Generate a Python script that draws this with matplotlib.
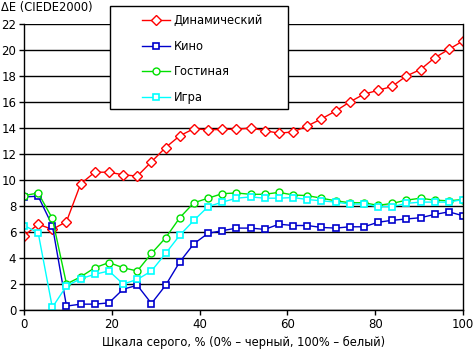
import numpy as np
import matplotlib
matplotlib.use('Agg')
import matplotlib.pyplot as plt
from matplotlib.patches import Rectangle

plt.rcParams['font.family'] = ['DejaVu Sans']
plt.rcParams['font.size'] = 8.3

x = np.arange(32) * 100.0 / 31

dyn = [5.7, 6.6, 6.2, 6.8, 9.7, 10.6, 10.6, 10.4, 10.3, 11.4, 12.5, 13.4, 13.95, 13.85, 13.9, 13.9,
       14.0, 13.8, 13.6, 13.7, 14.15, 14.7, 15.3, 16.0, 16.6, 16.9, 17.2, 18.0, 18.5, 19.4, 20.05, 20.7]
kino = [8.7, 8.75, 6.5, 0.3, 0.45, 0.45, 0.55, 1.6, 1.9, 0.5, 1.9, 3.7, 5.1, 5.9, 6.1, 6.3,
        6.3, 6.2, 6.6, 6.5, 6.5, 6.35, 6.3, 6.4, 6.4, 6.75, 6.9, 7.0, 7.1, 7.35, 7.55, 7.25]
gost = [8.8, 9.0, 7.05, 2.0, 2.55, 3.25, 3.65, 3.25, 3.0, 4.35, 5.55, 7.1, 8.25, 8.6, 8.95, 9.0,
        8.9, 8.9, 9.05, 8.85, 8.8, 8.6, 8.4, 8.25, 8.25, 8.05, 8.2, 8.45, 8.6, 8.45, 8.4, 8.5]
igra = [6.5, 5.95, 0.2, 1.85, 2.4, 2.75, 3.0, 2.0, 2.35, 3.0, 4.35, 5.75, 6.9, 7.95, 8.3, 8.6,
        8.7, 8.6, 8.6, 8.65, 8.5, 8.4, 8.3, 8.15, 8.15, 7.95, 7.95, 8.2, 8.3, 8.3, 8.3, 8.5]

names = ['Динамический', 'Кино', 'Гостиная', 'Игра']

fig = plt.figure(figsize=(4.73, 3.53), dpi=100)
ax = fig.add_axes([24/473, 43/353, 439/473, 286/353])

ax.plot(x, dyn, color='#FF0000', lw=1, marker='D', ms=5, mfc='white', mec='#FF0000', mew=1, label=names[0])
ax.plot(x, kino, color='#0000CC', lw=1, marker='s', ms=5, mfc='white', mec='#0000CC', mew=1.2, label=names[1])
ax.plot(x, gost, color='#00E000', lw=1, marker='o', ms=5, mfc='white', mec='#00E000', mew=1, label=names[2])
ax.plot(x, igra, color='#00FFFF', lw=1, marker='s', ms=5, mfc='white', mec='#00FFFF', mew=1.2, label=names[3])

ax.set_xlim(0, 100)
ax.set_ylim(0, 22)
ax.set_xticks(range(0, 101, 20))
ax.set_yticks(range(0, 23, 2))
ax.yaxis.grid(True, color='black', lw=1)
ax.set_axisbelow(True)
ax.spines['top'].set_visible(False)
for s in ['left', 'right', 'bottom']:
    ax.spines[s].set_linewidth(1)
ax.tick_params(direction='out', length=3.5, width=1, color='black', labelsize=8.5, pad=2)

ax.set_xlabel('Шкала серого, % (0% – черный, 100% – белый)', fontsize=8.3, labelpad=4)
fig.text(0.002, 0.997, 'ΔE (CIEDE2000)', ha='left', va='top', fontsize=8.3)

# legend box drawn separately so its padding matches
box = Rectangle((86/439, 201/286), 178/439, 103/286, transform=ax.transAxes, clip_on=False,
                facecolor='white', edgecolor='black', lw=1, zorder=5)
ax.add_patch(box)
leg = ax.legend(loc='upper left', bbox_to_anchor=(118/439, 296/286), frameon=False,
                fontsize=8.3, handlelength=2.4, labelspacing=1.1, borderpad=0,
                handletextpad=0.35, borderaxespad=0)
leg.set_zorder(6)

fig.savefig('out.png', dpi=100)
